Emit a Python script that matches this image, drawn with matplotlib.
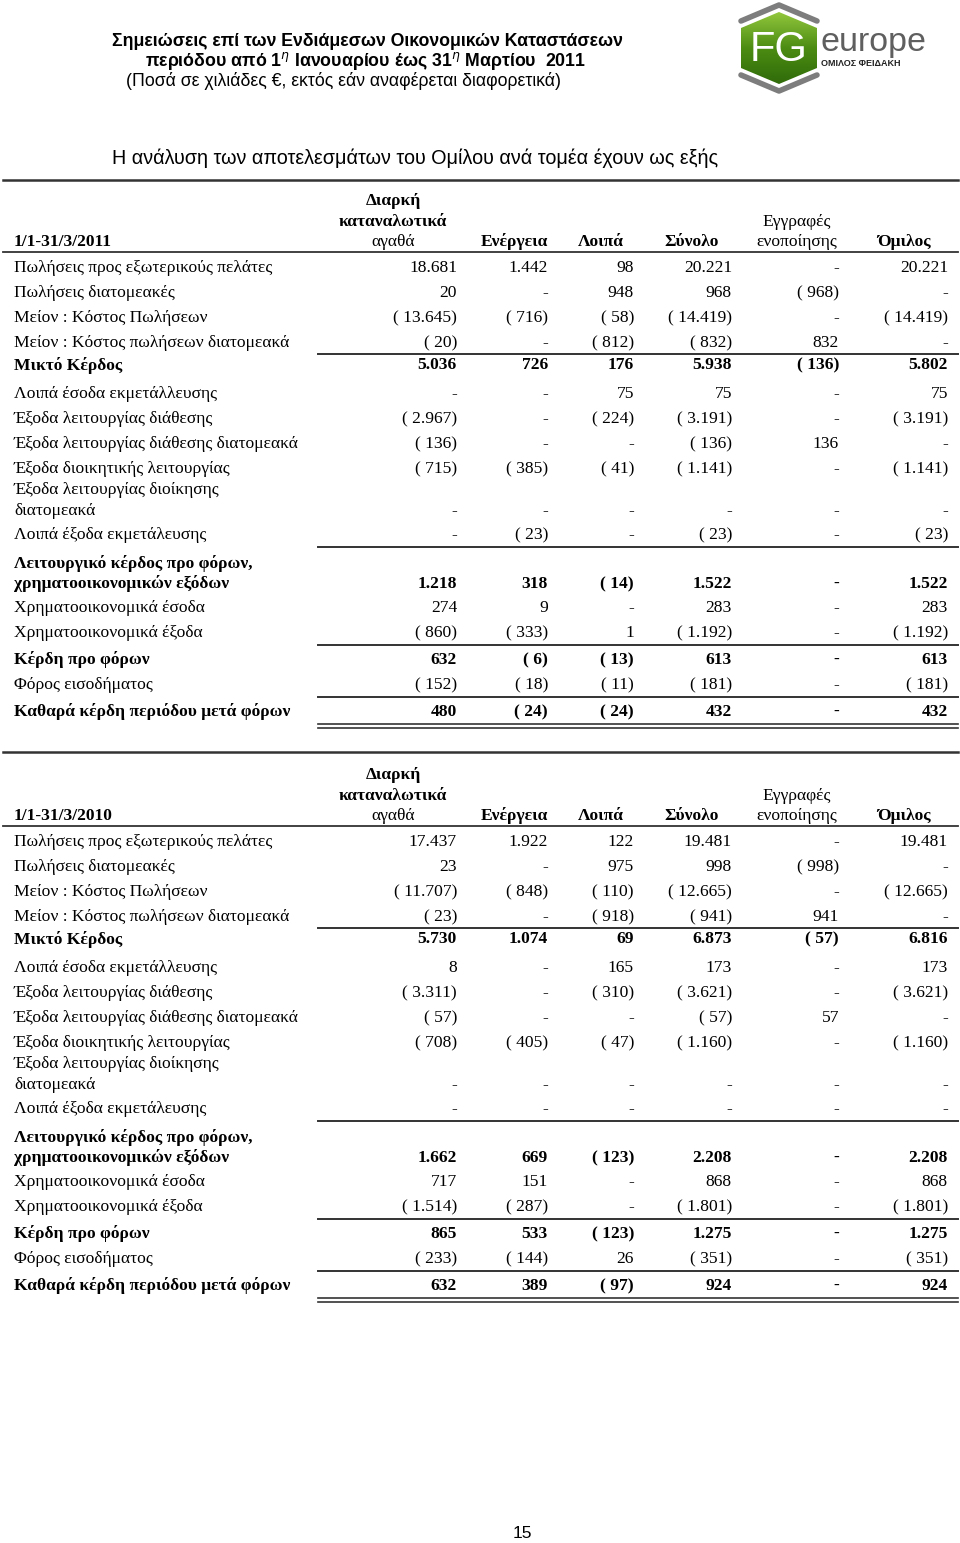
import matplotlib
matplotlib.use("Agg")
import matplotlib.pyplot as plt
import numpy as np
from matplotlib.patches import Polygon

# ---- data -------------------------------------------------------------
PERIODS = ["1/1-31/3/2011", "1/1-31/3/2010"]

SEGMENTS = [["Διαρκή", "καταναλωτικά", "αγαθά"], ["Ενέργεια"], ["Λοιπά"],
            ["Σύνολο"], ["Εγγραφές", "ενοποίησης"], ["Όμιλος"]]

ROW_LABELS = [
    "Πωλήσεις προς εξωτερικούς πελάτες",
    "Πωλήσεις διατομεακές",
    "Μείον : Κόστος Πωλήσεων",
    "Μείον : Κόστος πωλήσεων διατομεακά",
    "Μικτό Κέρδος",
    "Λοιπά έσοδα εκμετάλλευσης",
    "Έξοδα λειτουργίας διάθεσης",
    "Έξοδα λειτουργίας διάθεσης διατομεακά",
    "Έξοδα διοικητικής λειτουργίας",
    "Έξοδα λειτουργίας διοίκησης\nδιατομεακά",
    "Λοιπά έξοδα εκμετάλευσης",
    "Λειτουργικό κέρδος προ φόρων,\nχρηματοοικονομικών εξόδων",
    "Χρηματοοικονομικά έσοδα",
    "Χρηματοοικονομικά έξοδα",
    "Κέρδη προ φόρων",
    "Φόρος εισοδήματος",
    "Καθαρά κέρδη περιόδου μετά φόρων",
]
BOLD_ROWS = [4, 11, 14, 16]

# columns: durable, energy, other, total, eliminations, group
VALUES_2011 = [
    [18681, 1442, 98, 20221, 0, 20221],
    [20, 0, 948, 968, -968, 0],
    [-13645, -716, -58, -14419, 0, -14419],
    [-20, 0, -812, -832, 832, 0],
    [5036, 726, 176, 5938, -136, 5802],
    [0, 0, 75, 75, 0, 75],
    [-2967, 0, -224, -3191, 0, -3191],
    [-136, 0, 0, -136, 136, 0],
    [-715, -385, -41, -1141, 0, -1141],
    [0, 0, 0, 0, 0, 0],
    [0, -23, 0, -23, 0, -23],
    [1218, 318, -14, 1522, 0, 1522],
    [274, 9, 0, 283, 0, 283],
    [-860, -333, 1, -1192, 0, -1192],
    [632, -6, -13, 613, 0, 613],
    [-152, -18, -11, -181, 0, -181],
    [480, -24, -24, 432, 0, 432],
]
VALUES_2010 = [
    [17437, 1922, 122, 19481, 0, 19481],
    [23, 0, 975, 998, -998, 0],
    [-11707, -848, -110, -12665, 0, -12665],
    [-23, 0, -918, -941, 941, 0],
    [5730, 1074, 69, 6873, -57, 6816],
    [8, 0, 165, 173, 0, 173],
    [-3311, 0, -310, -3621, 0, -3621],
    [-57, 0, 0, -57, 57, 0],
    [-708, -405, -47, -1160, 0, -1160],
    [0, 0, 0, 0, 0, 0],
    [0, 0, 0, 0, 0, 0],
    [1662, 669, -123, 2208, 0, 2208],
    [717, 151, 0, 868, 0, 868],
    [-1514, -287, 0, -1801, 0, -1801],
    [865, 533, -123, 1275, 0, 1275],
    [-233, -144, 26, -351, 0, -351],
    [632, 389, -97, 924, 0, 924],
]

# ---- layout (pixels, y from top) -------------------------------------
W, H = 960, 1543
ROW_Y = [268, 293, 318, 343, 365, 394, 419, 444, 469, 511, 535,
         584, 608, 633, 660, 685, 712]
TABLE_TOP = [180, 752]
TABLE_SHIFT = [0, 574]
RULES = [354, 547, 645, 697]
COL_RIGHT = [457, 548, 634, 732, 839, 948]
HEAD_X = [393, 514, 601, 692, 797, 904]
HEAD_BOLD = [["bold", "bold", "normal"], ["bold"], ["bold"], ["bold"],
             ["normal", "normal"], ["bold"]]
SERIF = "Liberation Serif"
SANS = "Liberation Sans"
FS = 12.6


def fmt(v):
    if v == 0:
        return "-"
    s = f"{abs(v):,}".replace(",", ".")
    return f"( {s})" if v < 0 else s


fig = plt.figure(figsize=(W / 100, H / 100), dpi=100)
ax = fig.add_axes([0, 0, 1, 1])
ax.set_xlim(0, W)
ax.set_ylim(H, 0)
ax.axis("off")

# ---- page header -----------------------------------------------------
ax.text(367, 41, "Σημειώσεις επί των Ενδιάμεσων Οικονομικών Καταστάσεων",
        family=SANS, fontsize=12.8, fontweight="bold", ha="center", va="center")
ax.text(366, 61, "περιόδου από 1$^{\\eta}$ Ιανουαρίου έως 31$^{\\eta}$ Μαρτίου  2011",
        family=SANS, fontsize=12.8, fontweight="bold", ha="center", va="center")
ax.text(344, 81, "(Ποσά σε χιλιάδες €, εκτός εάν αναφέρεται διαφορετικά)",
        family=SANS, fontsize=12.7, ha="center", va="center")
ax.text(112, 158, "Η ανάλυση των αποτελεσμάτων του Ομίλου ανά τομέα έχουν ως εξής",
        family=SANS, fontsize=14.2, ha="left", va="center")

# ---- logo ------------------------------------------------------------
cx, cy = 779, 48
hexagon = Polygon([(cx, 12), (cx + 38, 28), (cx + 38, 68), (cx, 84),
                   (cx - 38, 68), (cx - 38, 28)], closed=True,
                  facecolor="none", edgecolor="none", joinstyle="round")
ax.add_patch(hexagon)
grad = np.linspace(0, 1, 100)[:, None] * np.ones((1, 10))
img = ax.imshow(grad, cmap=matplotlib.colors.LinearSegmentedColormap.from_list(
    "g", ["#93c83e", "#4c8c12", "#2f6a0a"]), extent=(cx - 39, cx + 39, 85, 11),
    aspect="auto", zorder=2)
img.set_clip_path(hexagon)
for sgn in (1, -1):
    ax.plot([cx - 38, cx, cx + 38],
            [cy - sgn * 27, cy - sgn * 43, cy - sgn * 27],
            color="#7d7d7d", lw=4, solid_capstyle="round", zorder=2)
ax.text(cx, cy + 2, "FG", family=SANS, fontsize=30, color="white",
        ha="center", va="center", zorder=3)
ax.text(820, 42, "europe", family=SANS, fontsize=24.5, color="#5f5f5f",
        ha="left", va="center", zorder=3)
ax.text(821, 64, "ΟΜΙΛΟΣ ΦΕΙΔΑΚΗ", family=SANS, fontsize=6.5,
        fontweight="bold", color="#222222", ha="left", va="center", zorder=3)

# ---- tables ----------------------------------------------------------
for period, values, top, dy in zip(PERIODS, [VALUES_2011, VALUES_2010],
                                   TABLE_TOP, TABLE_SHIFT):
    ax.plot([3, 958], [top, top], color="#333333", lw=1.8)
    head_y = 242 + dy
    ax.text(14, head_y, period, family=SERIF, fontsize=FS, fontweight="bold",
            ha="left", va="center")
    for lines, weights, x in zip(SEGMENTS, HEAD_BOLD, HEAD_X):
        n = len(lines)
        for k, (txt, wt) in enumerate(zip(lines, weights)):
            ax.text(x, head_y - (n - 1 - k) * 20.5, txt, family=SERIF,
                    fontsize=FS, fontweight=wt, ha="center", va="center")
    ax.plot([3, 958], [252 + dy, 252 + dy], color="#333333", lw=1.3)

    for i, (label, row) in enumerate(zip(ROW_LABELS, values)):
        y = ROW_Y[i] + dy
        wt = "bold" if i in BOLD_ROWS else "normal"
        parts = label.split("\n")
        for k, part in enumerate(parts):
            ax.text(14, y - (len(parts) - 1 - k) * 21, part, family=SERIF,
                    fontsize=FS, fontweight=wt, ha="left", va="center")
        for v, xr in zip(row, COL_RIGHT):
            ax.text(xr, y, fmt(v), family=SERIF, fontsize=FS, fontweight=wt,
                    ha="right", va="center")

    for ry in RULES:
        ax.plot([318, 958], [ry + dy, ry + dy], color="#333333", lw=1.4)
    for ry in (724, 728):
        ax.plot([318, 958], [ry + dy, ry + dy], color="#333333", lw=1.2)

# ---- page number -----------------------------------------------------
ax.text(522, 1533, "15", family=SANS, fontsize=12.5, ha="center", va="center")

fig.savefig("out.png", dpi=100)
